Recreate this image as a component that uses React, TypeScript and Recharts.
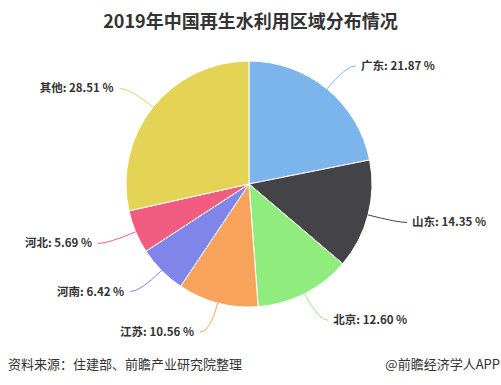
import { Cell, Pie, PieChart } from "recharts";

const regions = ["广东", "山东", "北京", "江苏", "河南", "河北", "其他"];
const shares = [21.87, 14.35, 12.6, 10.56, 6.42, 5.69, 28.51];
const colors = ["#7cb5ec", "#434348", "#90ed7d", "#f7a35c", "#8085e9", "#f15c80", "#e4d354"];

const data = regions.map((name, i) => ({ name, value: shares[i] }));
const RAD = Math.PI / 180;
const FONT = "'Noto Sans CJK SC', 'Noto Sans', sans-serif";

// highcharts-ish label: curved connector from the slice edge, text 30px out
function renderLabel(props: any) {
  const { cx, cy, midAngle, outerRadius, name, value, fill } = props;
  const cos = Math.cos(-midAngle * RAD);
  const sin = Math.sin(-midAngle * RAD);
  const ex = cx + outerRadius * cos;
  const ey = cy + outerRadius * sin;
  const lx = cx + (outerRadius + 30) * cos;
  const ly = cy + (outerRadius + 30) * sin;
  const right = cos >= 0;
  const endX = lx + (right ? 10 : -10);
  const tx = lx + (right ? 15 : -16);
  return (
    <g>
      <path d={`M${ex},${ey} Q${lx},${ly} ${endX},${ly}`} stroke={fill} strokeWidth={1} fill="none" />
      <text
        x={tx}
        y={ly}
        dy={4}
        textAnchor={right ? "start" : "end"}
        fontSize={11.5}
        fontWeight="bold"
        fontFamily={FONT}
        fill="#333333"
      >
        {`${name}: ${value.toFixed(2)} %`}
      </text>
    </g>
  );
}

export default function App() {
  return (
    <div style={{ position: "absolute", left: 0, top: 0, width: 501, height: 385, background: "#fff", fontFamily: FONT }}>
      <div
        style={{
          position: "absolute", left: 0, top: 8, width: 501, textAlign: "center",
          fontSize: 18, fontWeight: "bold", color: "#333333", lineHeight: "24px",
        }}
      >
        2019年中国再生水利用区域分布情况
      </div>
      <PieChart width={501} height={385} margin={{ top: 0, right: 0, bottom: 0, left: 0 }}>
        <Pie
          data={data}
          dataKey="value"
          nameKey="name"
          cx={249}
          cy={184}
          outerRadius={123}
          startAngle={90}
          endAngle={-270}
          stroke="#ffffff"
          strokeWidth={1}
          label={renderLabel}
          labelLine={false}
          isAnimationActive={false}
        >
          {data.map((d, i) => (
            <Cell key={d.name} fill={colors[i]} />
          ))}
        </Pie>
      </PieChart>
      <div style={{ position: "absolute", left: 8, top: 355, fontSize: 13, color: "#333333", lineHeight: "18px" }}>
        资料来源：住建部、前瞻产业研究院整理
      </div>
      <div style={{ position: "absolute", right: 1, top: 355, fontSize: 13, color: "#333333", lineHeight: "18px" }}>
        @前瞻经济学人APP
      </div>
    </div>
  );
}
